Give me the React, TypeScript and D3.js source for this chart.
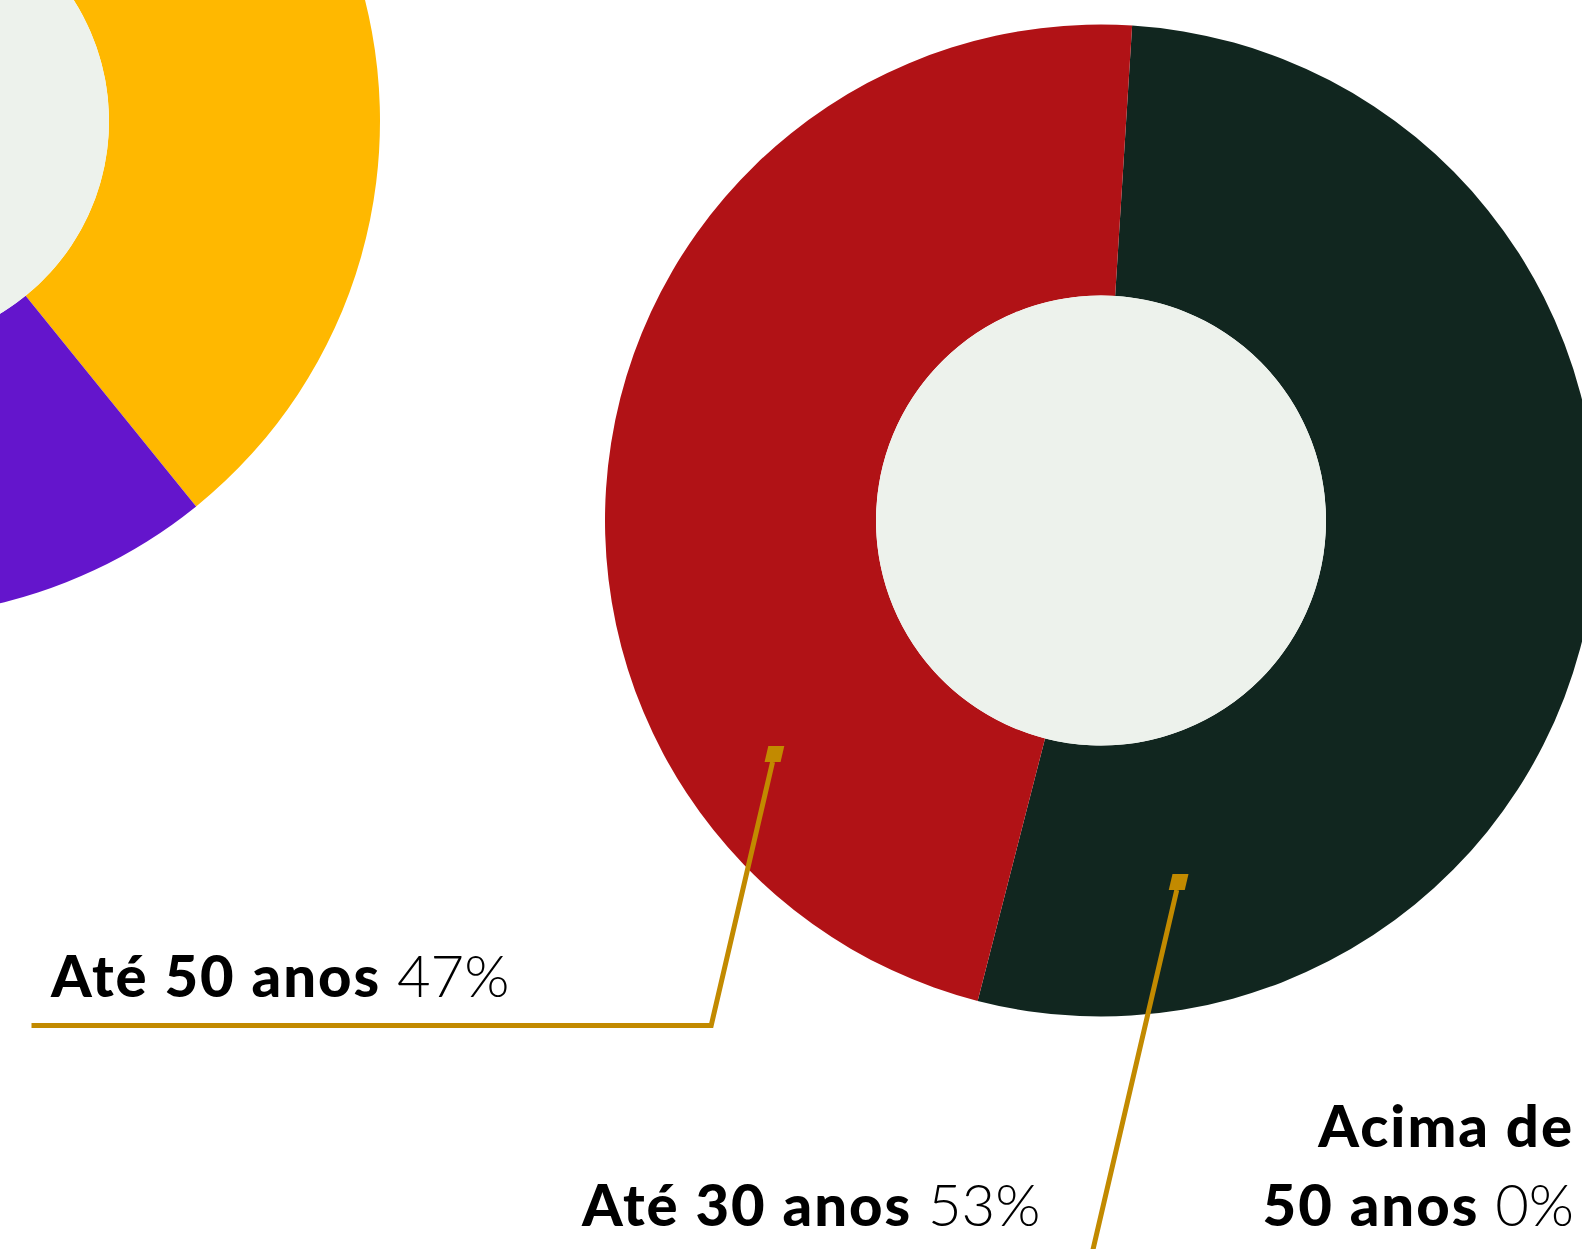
import React from "react";
import * as d3 from "d3";

// ---------- data ----------
const ageCategories = ["Até 30 anos", "Até 50 anos", "Acima de 50 anos"];
const ageValues = [53, 47, 0];
const ageColors = ["#11261F", "#B11216", "#6415CC"];

const leftCategories = ["A", "B", "C"];
const leftValues = [39, 31, 30];
const leftColors = ["#FFB800", "#6415CC", "#11261F"];

// ---------- layout ----------
const W = 1582;
const H = 1249;
const OUTER = 496;
const INNER = 225;
const HOLE = "#EDF2EC";
const GOLD = "#C28A00";
const FONT = "Lato, 'Noto Sans', sans-serif";
const FS = 58;
const LS = 2;

const rightCenter = { x: 1101, y: 520.5 };
const leftCenter = { x: -116, y: 121 };
const deg = Math.PI / 180;

// leader lines: marker top-centre, elbow y, end x (slope dx/dy)
const SLOPE = -0.233;
const leaders = [
  { cat: "Até 50 anos", mx: 776.3, my: 746, elbowY: 1025.5, endX: 31.5 },
  { cat: "Até 30 anos", mx: 1180.5, my: 874, elbowY: 1254, endX: 562 },
];

export default function App() {
  const pieR = d3
    .pie<number>()
    .sort(null)
    .startAngle(3.6 * deg)
    .endAngle(363.6 * deg);
  const pieL = d3
    .pie<number>()
    .sort(null)
    .startAngle(0.6 * deg)
    .endAngle(360.6 * deg);
  const arc = d3.arc<d3.PieArcDatum<number>>().innerRadius(INNER).outerRadius(OUTER);

  const rArcs = pieR(ageValues);
  const lArcs = pieL(leftValues);

  const lineGen = d3.line();
  const MH = 16; // marker height
  const MW = 16; // marker width

  return (
    <svg
      width={W}
      height={H}
      style={{ position: "absolute", left: 0, top: 0, display: "block" }}
    >
      <rect x={0} y={0} width={W} height={H} fill="#ffffff" />
      <g transform={`translate(${leftCenter.x},${leftCenter.y})`}>
        {lArcs.map((a, i) => (
          <path key={leftCategories[i]} d={arc(a) || ""} fill={leftColors[i]} />
        ))}
        <circle r={INNER} fill={HOLE} />
      </g>
      <g transform={`translate(${rightCenter.x},${rightCenter.y})`}>
        {rArcs.map((a, i) =>
          a.value > 0 ? (
            <path key={ageCategories[i]} d={arc(a) || ""} fill={ageColors[i]} />
          ) : null
        )}
        <circle r={INNER} fill={HOLE} />
      </g>

      {leaders.map((l) => {
        const by = l.my + MH;
        const bx = l.mx + SLOPE * MH;
        const ex = bx + SLOPE * (l.elbowY - by);
        const pts: [number, number][] = [
          [bx, by],
          [ex, l.elbowY],
          [l.endX, l.elbowY],
        ];
        const poly = [
          [l.mx - MW / 2, l.my],
          [l.mx + MW / 2, l.my],
          [bx + MW / 2, by],
          [bx - MW / 2, by],
        ]
          .map((p) => p.join(","))
          .join(" ");
        return (
          <g key={l.cat}>
            <path
              d={lineGen(pts) || ""}
              fill="none"
              stroke={GOLD}
              strokeWidth={5}
              strokeLinejoin="miter"
            />
            <polygon points={poly} fill={GOLD} />
          </g>
        );
      })}

      <g fontFamily={FONT} fontSize={FS} fill="#000">
        <text x={51} y={997}>
          <tspan fontWeight={900} letterSpacing={LS}>{ageCategories[1]}</tspan>
          <tspan fontWeight={300}>{` ${ageValues[1]}%`}</tspan>
        </text>
        <text x={582} y={1226}>
          <tspan fontWeight={900} letterSpacing={LS}>{ageCategories[0]}</tspan>
          <tspan fontWeight={300}>{` ${ageValues[0]}%`}</tspan>
        </text>
        <text x={1574} y={1147} textAnchor="end">
          <tspan fontWeight={900} letterSpacing={LS}>Acima de</tspan>
        </text>
        <text x={1574} y={1226} textAnchor="end">
          <tspan fontWeight={900} letterSpacing={LS}>50 anos</tspan>
          <tspan fontWeight={300}>{` ${ageValues[2]}%`}</tspan>
        </text>
      </g>
    </svg>
  );
}
